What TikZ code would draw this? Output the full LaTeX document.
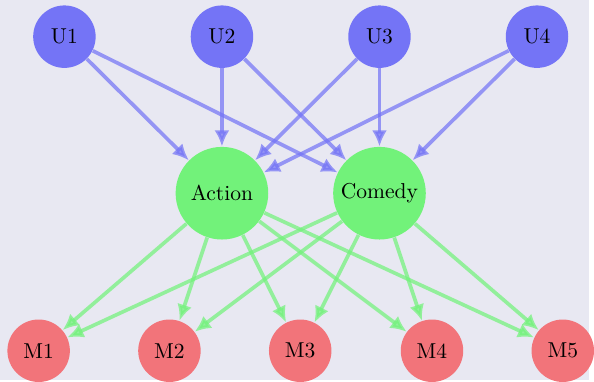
\documentclass[tikz,border=0pt]{standalone}
\usetikzlibrary{arrows.meta}
\definecolor{bgcol}{RGB}{232,232,242}
\definecolor{usercol}{RGB}{116,116,246}
\definecolor{genrecol}{RGB}{114,242,122}
\definecolor{moviecol}{RGB}{242,116,122}
\begin{document}
\begin{tikzpicture} [x=0.46pt, y=-0.46pt]
\tikzstyle{every node}=[shape=circle, inner sep=0pt];
\tikzstyle{user}=[fill=usercol, minimum size=29pt];
\tikzstyle{genre}=[fill=genrecol, minimum size=43pt];
\tikzstyle{movie}=[fill=moviecol, minimum size=29pt];
\tikzstyle{ulink}=[draw=usercol, opacity=0.72, line width=1.7pt, -{Latex[length=7.5pt,width=7pt]}];
\tikzstyle{glink}=[draw=genrecol, opacity=0.72, line width=1.7pt, -{Latex[length=7.5pt,width=7pt]}];
\fill [bgcol] (0,0) rectangle (594,384);
\node [user] (u1) at (65, 37) {U1};
\node [user] (u2) at (224, 37) {U2};
\node [user] (u3) at (383, 37) {U3};
\node [user] (u4) at (542, 37) {U4};
\node [genre] (action) at (224, 195) {Action};
\node [genre] (comedy) at (383, 195) {Comedy};
\node [movie] (m1) at (39, 354) {M1};
\node [movie] (m2) at (171, 354) {M2};
\node [movie] (m3) at (303, 354) {M3};
\node [movie] (m4) at (436, 354) {M4};
\node [movie] (m5) at (568, 354) {M5};
\draw [ulink] (u1) -- (action);
\draw [ulink] (u1) -- (comedy);
\draw [ulink] (u2) -- (action);
\draw [ulink] (u2) -- (comedy);
\draw [ulink] (u3) -- (action);
\draw [ulink] (u3) -- (comedy);
\draw [ulink] (u4) -- (action);
\draw [ulink] (u4) -- (comedy);
\foreach \m in {m1,m2,m3,m4,m5} {
  \draw [glink] (action) -- (\m);
  \draw [glink] (comedy) -- (\m);
}
\end{tikzpicture}
\end{document}
